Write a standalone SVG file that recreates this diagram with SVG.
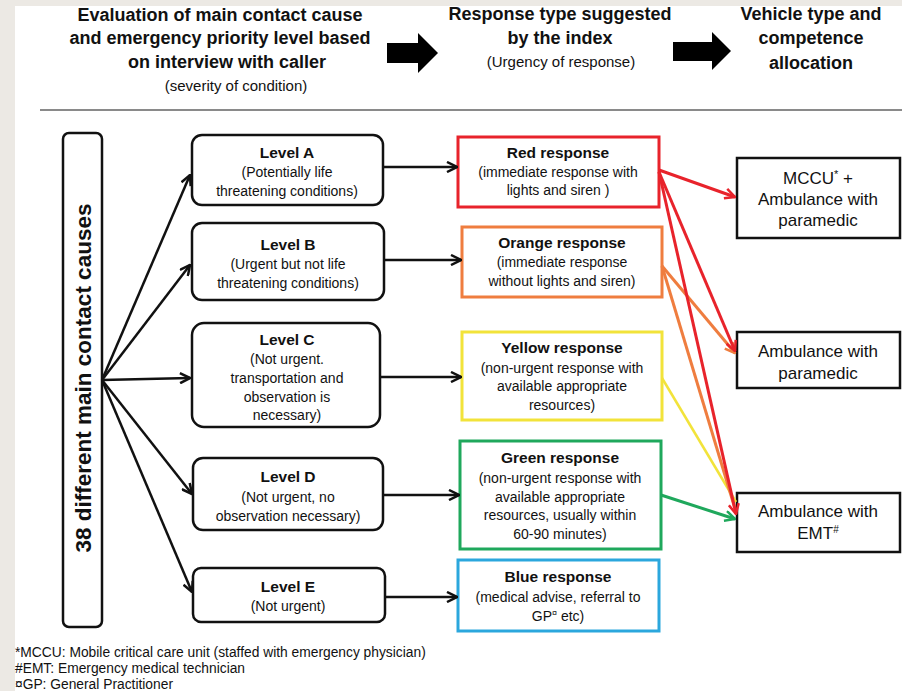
<svg xmlns="http://www.w3.org/2000/svg" width="902" height="691" viewBox="0 0 902 691">
<defs>
<style>
text{font-family:"Liberation Sans",Arial,sans-serif;fill:#111}
.h{font-size:18px;font-weight:bold;text-anchor:middle}
.hs{font-size:15px;text-anchor:middle}
.t{font-size:15.5px;font-weight:bold;text-anchor:middle}
.b{font-size:14px;text-anchor:middle}
.v{font-size:17px;text-anchor:middle}
.fn{font-size:13.8px}
.lvl{fill:#fff;stroke:#111;stroke-width:2.5}
.veh{fill:#fff;stroke:#111;stroke-width:2.5}
.resp{fill:#fff;stroke-width:3}
.k{stroke:#111;stroke-width:2.5;fill:none}
.cr{stroke:#e8232b;stroke-width:3;fill:none}
.co{stroke:#ef7d3f;stroke-width:3;fill:none}
.cy{stroke:#f2e33a;stroke-width:2.5;fill:none}
.cg{stroke:#1fa85c;stroke-width:3;fill:none}
</style>
<marker id="ak" markerUnits="userSpaceOnUse" viewBox="0 0 12 12" markerWidth="12" markerHeight="12" refX="11" refY="6" orient="auto"><path d="M1,1 L11,6 L1,11" fill="none" stroke="#111" stroke-width="2.5"/></marker>
<marker id="ar" markerUnits="userSpaceOnUse" viewBox="0 0 12 12" markerWidth="12" markerHeight="12" refX="11" refY="6" orient="auto"><path d="M1,1 L11,6 L1,11" fill="none" stroke="#e8232b" stroke-width="2.5"/></marker>
<marker id="ao" markerUnits="userSpaceOnUse" viewBox="0 0 12 12" markerWidth="12" markerHeight="12" refX="11" refY="6" orient="auto"><path d="M1,1 L11,6 L1,11" fill="none" stroke="#ef7d3f" stroke-width="2.5"/></marker>
<marker id="ag" markerUnits="userSpaceOnUse" viewBox="0 0 12 12" markerWidth="12" markerHeight="12" refX="11" refY="6" orient="auto"><path d="M1,1 L11,6 L1,11" fill="none" stroke="#1fa85c" stroke-width="2.5"/></marker>
</defs>
<rect x="0" y="0" width="902" height="691" fill="#ece9e4"/>
<rect x="15" y="6" width="887" height="685" fill="#ffffff"/>

<g id="header">
<text class="h" x="220" y="21">Evaluation of main contact cause</text>
<text class="h" x="220" y="44">and emergency priority level based</text>
<text class="h" x="227" y="68">on interview with caller</text>
<text class="hs" x="236" y="91">(severity of condition)</text>
<polygon points="387,43 418,43 418,33 438,53 418,73 418,63 387,63" fill="#000"/>
<text class="h" x="560" y="20">Response type suggested</text>
<text class="h" x="560" y="44">by the index</text>
<text class="hs" x="561" y="67">(Urgency of response)</text>
<polygon points="673,42 712,42 712,32 731,51 712,70 712,61 673,61" fill="#000"/>
<text class="h" x="811" y="20">Vehicle type and</text>
<text class="h" x="811" y="44">competence</text>
<text class="h" x="811" y="69">allocation</text>
<line x1="40" y1="110" x2="902" y2="110" stroke="#8a8a8a" stroke-width="2"/>
</g>

<g id="causes">
<rect x="63" y="133" width="39" height="494" rx="6" class="lvl"/>
<text transform="translate(91,378) rotate(-90)" style="font-size:22.5px;font-weight:bold;text-anchor:middle">38 different main contact causes</text>
</g>

<g id="levelA">
<rect x="192" y="135" width="191" height="70" rx="10" class="lvl"/>
<text class="t" x="287" y="158">Level A</text>
<text class="b" x="287" y="177">(Potentially life</text>
<text class="b" x="287" y="196">threatening conditions)</text>
</g>
<g id="levelB">
<rect x="192" y="223" width="192" height="77" rx="10" class="lvl"/>
<text class="t" x="288" y="250">Level B</text>
<text class="b" x="288" y="269">(Urgent but not life</text>
<text class="b" x="288" y="288">threatening conditions)</text>
</g>
<g id="levelC">
<rect x="192" y="323" width="188" height="104" rx="12" class="lvl"/>
<text class="t" x="287" y="345">Level C</text>
<text class="b" x="287" y="364">(Not urgent.</text>
<text class="b" x="287" y="383">transportation and</text>
<text class="b" x="287" y="402">observation is</text>
<text class="b" x="287" y="420">necessary)</text>
</g>
<g id="levelD">
<rect x="193" y="458" width="190" height="72" rx="10" class="lvl"/>
<text class="t" x="288" y="482">Level D</text>
<text class="b" x="288" y="502">(Not urgent, no</text>
<text class="b" x="288" y="521">observation necessary)</text>
</g>
<g id="levelE">
<rect x="193" y="568" width="192" height="54" rx="8" class="lvl"/>
<text class="t" x="288" y="592">Level E</text>
<text class="b" x="288" y="611">(Not urgent)</text>
</g>

<g id="red">
<rect x="458" y="137" width="201" height="70" class="resp" stroke="#e8232b"/>
<text class="t" x="558" y="158">Red response</text>
<text class="b" x="558" y="177">(immediate response with</text>
<text class="b" x="558" y="195">lights and siren )</text>
</g>
<g id="orange">
<rect x="462" y="227" width="200" height="70" class="resp" stroke="#ef7d3f"/>
<text class="t" x="562" y="248">Orange response</text>
<text class="b" x="562" y="267">(immediate response</text>
<text class="b" x="562" y="286">without lights and siren)</text>
</g>
<g id="yellow">
<rect x="462" y="332" width="200" height="88" class="resp" stroke="#f2e33a"/>
<text class="t" x="562" y="353">Yellow response</text>
<text class="b" x="562" y="373">(non-urgent response with</text>
<text class="b" x="562" y="391">available appropriate</text>
<text class="b" x="562" y="410">resources)</text>
</g>
<g id="green">
<rect x="460" y="441" width="201" height="108" class="resp" stroke="#1fa85c"/>
<text class="t" x="560" y="463">Green response</text>
<text class="b" x="560" y="483">(non-urgent response with</text>
<text class="b" x="560" y="502">available appropriate</text>
<text class="b" x="560" y="520">resources, usually within</text>
<text class="b" x="560" y="539">60-90 minutes)</text>
</g>
<g id="blue">
<rect x="458" y="560" width="201" height="71" class="resp" stroke="#2ba7dd"/>
<text class="t" x="558" y="582">Blue response</text>
<text class="b" x="558" y="602">(medical advise, referral to</text>
<text class="b" x="558" y="621">GP<tspan font-size="9" dy="-5">¤</tspan><tspan dy="5"> etc)</tspan></text>
</g>

<g id="mccu">
<rect x="737" y="158" width="163" height="80" class="veh"/>
<text class="v" x="818" y="184">MCCU<tspan font-size="11" dy="-6">*</tspan><tspan dy="6"> +</tspan></text>
<text class="v" x="818" y="205">Ambulance with</text>
<text class="v" x="818" y="226">paramedic</text>
</g>
<g id="paramedic">
<rect x="737" y="332" width="163" height="56" class="veh"/>
<text class="v" x="818" y="357">Ambulance with</text>
<text class="v" x="818" y="379">paramedic</text>
</g>
<g id="emt">
<rect x="737" y="493" width="163" height="59" class="veh"/>
<text class="v" x="818" y="517">Ambulance with</text>
<text class="v" x="818" y="539">EMT<tspan font-size="10" dy="-6">#</tspan></text>
</g>

<g id="connectors">
<line class="k" x1="102" y1="380" x2="190" y2="175" marker-end="url(#ak)"/>
<line class="k" x1="102" y1="380" x2="190" y2="265" marker-end="url(#ak)"/>
<line class="k" x1="102" y1="380" x2="190" y2="378" marker-end="url(#ak)"/>
<line class="k" x1="102" y1="380" x2="192" y2="494" marker-end="url(#ak)"/>
<line class="k" x1="102" y1="380" x2="192" y2="592" marker-end="url(#ak)"/>
<line class="k" x1="383" y1="167" x2="457" y2="167" marker-end="url(#ak)"/>
<line class="k" x1="384" y1="260" x2="461" y2="260" marker-end="url(#ak)"/>
<line class="k" x1="380" y1="377" x2="461" y2="377" marker-end="url(#ak)"/>
<line class="k" x1="383" y1="495" x2="459" y2="495" marker-end="url(#ak)"/>
<line class="k" x1="385" y1="597" x2="457" y2="597" marker-end="url(#ak)"/>
<line class="cy" x1="662" y1="378" x2="736" y2="502"/>
<line class="cg" x1="661" y1="495" x2="735" y2="519" marker-end="url(#ag)"/>
<line class="co" x1="662" y1="266" x2="735" y2="353" marker-end="url(#ao)"/>
<line class="co" x1="662" y1="266" x2="736" y2="512"/>
<line class="cr" x1="659" y1="170" x2="735" y2="197" marker-end="url(#ar)"/>
<line class="cr" x1="659" y1="172" x2="735" y2="351" marker-end="url(#ar)"/>
<line class="cr" x1="659" y1="172" x2="736" y2="514" marker-end="url(#ar)"/>
</g>

<g id="footnotes">
<text class="fn" x="15" y="657">*MCCU: Mobile critical care unit (staffed with emergency physician)</text>
<text class="fn" x="15" y="673">#EMT: Emergency medical technician</text>
<text class="fn" x="15" y="689">¤GP: General Practitioner</text>
</g>
</svg>
